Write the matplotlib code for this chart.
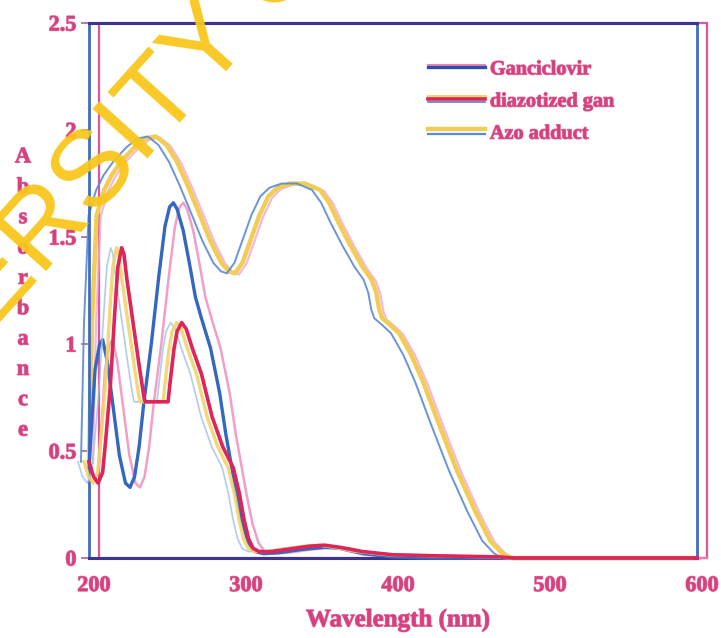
import matplotlib.pyplot as plt
import matplotlib.transforms as mtransforms
import matplotlib.patheffects as pe
from matplotlib.lines import Line2D
from matplotlib.patches import Rectangle
from matplotlib.legend_handler import HandlerBase
import numpy as np

# UV-Vis spectra (wavelength in nm, absorbance)
wl_gan = [200, 202, 204, 207, 209, 212, 216, 220, 224, 227, 230, 233, 236, 241, 246, 250,
          253, 255.5, 258, 262, 266, 270, 274, 280, 286, 290, 293, 297, 301, 305, 309,
          315, 325, 340, 355, 365, 380, 400, 420, 600]
abs_gan = [0.42, 0.65, 0.88, 1.0, 1.02, 0.92, 0.70, 0.48, 0.35, 0.33, 0.38, 0.52, 0.72, 1.0, 1.32, 1.55,
           1.64, 1.66, 1.63, 1.53, 1.38, 1.22, 1.12, 0.98, 0.77, 0.58, 0.46, 0.30, 0.16, 0.07, 0.03,
           0.02, 0.025, 0.04, 0.05, 0.045, 0.02, 0.005, 0.0, 0.0]

wl_dia = [200, 203, 206, 209, 211, 214, 217, 219, 221.5, 223, 225, 229, 233, 236, 237, 252,
          254, 256, 258, 261, 264, 268, 274, 281, 288, 295, 299, 302, 305, 308, 312,
          320, 330, 345, 355, 365, 380, 400, 430, 470, 480, 600]
abs_dia = [0.45, 0.38, 0.35, 0.40, 0.55, 0.80, 1.15, 1.36, 1.45, 1.42, 1.30, 1.10, 0.90, 0.76, 0.73, 0.73,
           0.86, 0.98, 1.06, 1.10, 1.07, 0.98, 0.86, 0.66, 0.52, 0.42, 0.30, 0.18, 0.09, 0.045, 0.03,
           0.03, 0.04, 0.055, 0.06, 0.05, 0.03, 0.015, 0.01, 0.005, 0.0, 0.0]

wl_azo = [200, 202, 205, 210, 215, 222, 230, 237, 244, 251, 258, 265, 272, 280, 287, 292, 296,
          301, 306, 312, 318, 324, 332, 342, 352, 358, 364, 372, 380, 386, 389, 391, 393,
          398, 404, 412, 420, 430, 442, 454, 464, 472, 478, 600]
abs_azo = [0.45, 1.10, 1.60, 1.72, 1.79, 1.86, 1.92, 1.96, 1.97, 1.93, 1.85, 1.74, 1.62, 1.48, 1.38, 1.34, 1.33,
           1.38, 1.48, 1.60, 1.69, 1.73, 1.75, 1.75, 1.72, 1.66, 1.57, 1.46, 1.36, 1.30, 1.24, 1.16, 1.12,
           1.09, 1.05, 0.95, 0.82, 0.63, 0.41, 0.22, 0.08, 0.02, 0.0, 0.0]

labels = ['Ganciclovir', 'diazotized gan', 'Azo adduct']
xticks = [200, 300, 400, 500, 600]
yticks = [0, 0.5, 1, 1.5, 2, 2.5]
ytick_labels = ['0', '0.5', '1', '1.5', '2', '2.5']

pink = '#d6407f'
serif = 'Liberation Serif'
heavy = [pe.withStroke(linewidth=0.9, foreground='#e0709f')]

# each trace: (colour, width, x shift in px, y shift in px, alpha)
style_gan = [('#ee86bb', 1.8, 10, 0, 0.8), ('#3467c0', 2.4, 0, 0, 1.0)]
style_dia = [('#9fc0e6', 1.2, -11, 0, 0.8), ('#f3d36a', 2.4, -5, 0, 0.9), ('#de2459', 2.6, 0, 0, 1.0)]
style_azo = [('#f4a7cc', 1.6, 4, -1, 0.8), ('#f1cd55', 3.2, 0, 0, 1.0), ('#5a8ad2', 1.4, -8, 0, 0.9)]

fig = plt.figure(figsize=(7.21, 6.38), dpi=100)
ax = fig.add_axes([0.1234, 0.1254, 0.8433, 0.8385])


def draw(x, y, styles, z):
    for color, lw, dx, dy, a in styles:
        tr = mtransforms.offset_copy(ax.transData, fig=fig, x=dx, y=dy, units='dots')
        ax.plot(x, y, color=color, lw=lw, alpha=a, transform=tr, zorder=z, clip_on=False,
                solid_joinstyle='round')


draw(wl_azo, abs_azo, style_azo, 2)
draw(wl_gan, abs_gan, style_gan, 3)
draw(wl_dia, abs_dia, style_dia, 4)

ax.set_xlim(200, 600)
ax.set_ylim(0, 2.5)
ax.set_xticks(xticks)
ax.set_xticklabels([str(t) for t in xticks])
ax.set_yticks(yticks)
ax.set_yticklabels(ytick_labels)
ax.tick_params(axis='x', length=0, pad=13)
ax.tick_params(axis='y', length=6, width=1.2, color='#b06090', pad=3, direction='out')
nudge = mtransforms.ScaledTranslation(5 / 100, 0, fig.dpi_scale_trans)
for lab in ax.get_xticklabels():
    lab.set_transform(lab.get_transform() + nudge)
for lab in ax.get_xticklabels() + ax.get_yticklabels():
    lab.set_fontfamily(serif)
    lab.set_fontweight('bold')
    lab.set_fontsize(16)
    lab.set_color(pink)
    lab.set_path_effects(heavy)

for side in ['left', 'right']:
    ax.spines[side].set_color('#3d6cc2')
    ax.spines[side].set_linewidth(2)
for side in ['top', 'bottom']:
    ax.spines[side].set_color('#3b3590')
    ax.spines[side].set_linewidth(2.2)

# second, shifted frame in magenta
shift = mtransforms.offset_copy(ax.transAxes, fig=fig, x=10, y=0, units='dots')
ax.add_patch(Rectangle((0, 0), 1, 1, transform=shift, fill=False, edgecolor='#e0559a',
                       lw=1.6, clip_on=False, zorder=1))


class GhostHandler(HandlerBase):
    def __init__(self, layers):
        super().__init__()
        self.layers = layers

    def create_artists(self, legend, orig_handle, xdescent, ydescent, width, height,
                       fontsize, trans):
        arts = []
        y0 = (height - ydescent) / 2
        for color, lw, dy in self.layers:
            arts.append(Line2D([-xdescent, width - xdescent], [y0 + dy, y0 + dy],
                               color=color, lw=lw, transform=trans))
        return arts


h_gan = Line2D([], [], color='#3467c0')
h_dia = Line2D([], [], color='#de2459')
h_azo = Line2D([], [], color='#f1cd55')
hmap = {
    h_gan: GhostHandler([('#ee86bb', 1.5, 1.5), ('#2f4fa8', 2.4, 0)]),
    h_dia: GhostHandler([('#f3d36a', 2.2, 2.5), ('#de2459', 2.6, 0), ('#5a7ac8', 1.2, -2)]),
    h_azo: GhostHandler([('#f1cd55', 3.2, 2), ('#5a8ad2', 1.6, -1.5)]),
}
leg = ax.legend([h_gan, h_dia, h_azo], labels, handler_map=hmap, loc='upper left',
                bbox_to_anchor=(0.5576, 0.932), frameon=False, borderpad=0, borderaxespad=0,
                handlelength=2.8, handletextpad=0.25, labelspacing=0.6,
                prop={'family': serif, 'weight': 'bold', 'size': 14.6})
for t in leg.get_texts():
    t.set_color(pink)
    t.set_path_effects(heavy)

fig.text(398 / 721, 1 - 620 / 638, 'Wavelength (nm)', ha='center', va='center',
         family=serif, weight='bold', size=18, color=pink, path_effects=heavy)
fig.text(23 / 721, 1 - 294 / 638, '\n'.join('Absorbance'), ha='center', va='center',
         multialignment='center', family=serif, weight='bold', size=16, color=pink,
         linespacing=1.69, path_effects=heavy)

# repository watermark
fig.text(76 / 721, 1 - 197 / 638, 'UNIVERSITY OF', rotation=48, rotation_mode='anchor',
         ha='center', va='center', family='Liberation Sans', size=78, color='#f8c61a',
         alpha=0.95, zorder=10)

fig.savefig('out.png', dpi=100)
